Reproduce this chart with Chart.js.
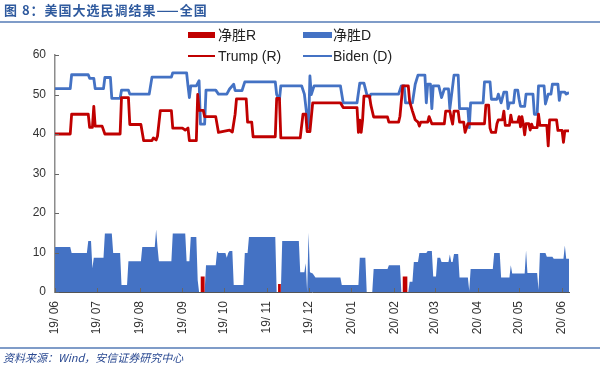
<!DOCTYPE html>
<html>
<head>
<meta charset="utf-8">
<script src="https://cdn.jsdelivr.net/npm/chart.js@4.4.0/dist/chart.umd.min.js"></script>
<style>
body { margin: 0; background: #fff; }
#wrap { position: relative; width: 600px; height: 365px; overflow: hidden; font-family: "Liberation Sans", Arial, sans-serif; }
#c { position: absolute; left: 0; top: 0; }
.title { position: absolute; left: 4px; top: 1px; font: bold 13px "Noto Sans CJK SC", sans-serif; color: #2f5a9e; letter-spacing: 1px; line-height: 17px; white-space: nowrap; }
.rule { position: absolute; left: 0; width: 600px; height: 2px; background: #7f9cc8; }
.leg { position: absolute; font-size: 14px; line-height: 16px; color: #222; white-space: nowrap; font-family: "Liberation Sans", "Noto Sans CJK SC", sans-serif; }
.mk { position: absolute; }
.foot { position: absolute; left: 3px; top: 350px; font: italic 11px "Noto Sans CJK SC", sans-serif; color: #2b4a92; line-height: 14px; white-space: nowrap; }
</style>
</head>
<body>
<div id="wrap">
  <canvas id="c" width="600" height="365"></canvas>
  <div class="title">图 8：美国大选民调结果——全国</div>
  <div class="rule" style="top:21px"></div>

  <div class="mk" style="left:188px;top:32px;width:27px;height:6px;background:#c00000"></div>
  <div class="leg" style="left:218px;top:27px">净胜R</div>
  <div class="mk" style="left:188px;top:55px;width:27px;height:2px;background:#c00000"></div>
  <div class="leg" style="left:218px;top:48px">Trump (R)</div>
  <div class="mk" style="left:303px;top:32px;width:29px;height:6px;background:#4472c4"></div>
  <div class="leg" style="left:333px;top:27px">净胜D</div>
  <div class="mk" style="left:303px;top:55px;width:29px;height:2px;background:#4472c4"></div>
  <div class="leg" style="left:333px;top:48px">Biden (D)</div>

  <div class="rule" style="top:347px;height:1.5px"></div>
  <div class="foot">资料来源：Wind，安信证券研究中心</div>
</div>
<script>
// days counted from 2019-06-01
const monthDays = [0, 30, 61, 92, 122, 153, 183, 214, 245, 274, 305, 335, 366];
const monthLabels = ['19/ 06', '19/ 07', '19/ 08', '19/ 09', '19/ 10', '19/ 11', '19/ 12',
                     '20/ 01', '20/ 02', '20/ 03', '20/ 04', '20/ 05', '20/ 06'];
const yTicks = [0, 10, 20, 30, 40, 50, 60];

// [day, value]
const trumpPoll = [[0,40],[11,40],[12,45],[24,45],[25,41.7],[27,41.7],[28,47],[29,42],[34,42],[36,40],
  [47,40],[48,49.2],[53,49.2],[54,42.4],[62,42.4],[64,38.3],[70,38.3],[71,39],[73,38.5],[74,39.5],
  [76,45.9],[84,45.9],[85,41.5],[92,41.5],[94,41],[96,41.5],[97,38.3],[102,38.3],[103,50],[104,46],
  [107,46],[108,44.4],[116,44.4],[118,40.4],[126,41],[128,40.5],[130,45],[131,48.9],[138,48.9],[139,43],
  [142,43],[143,39.3],[159,39.3],[160,49],[162,49],[163,39],[177,39],[179,45],[181,45],[182,40.6],
  [184,40.6],[186,47.9],[206,47.9],[208,46.7],[218,46.7],[219,40.4],[220,43.5],[221,40.4],[222,43.5],[223,49.6],
  [227,49.6],[228,47.3],[230,44.3],[240,44.3],[241,43],[248,43],[249,44.5],[251,52.2],[255,52.2],[256,48.2],
  [258,45.8],[260,43.6],[262,43],[263,42],[264,43],[269,43],[270,44.4],[272,42.6],[281,42.6],[282,45.8],
  [285,45.8],[286,44],[287,42.5],[288,45.8],[291,45.8],[292,43],[295,43],[296,40.4],[298,42.6],[310,42.6],
  [311,47.3],[313,47.3],[314,41.5],[315,40.4],[318,40.4],[319,42.6],[320,43.6],[323,43.6],[324,45.8],[325,42.2],
  [328,42.2],[329,44.8],[330,43],[334,43],[335,44.4],[336,41.8],[337,44.4],[338,42.6],[339,39.8],[340,42.6],
  [342,42.6],[343,41],[344,42.5],[345,41.6],[348,41.6],[349,45],[350,42.2],[355,42.2],[356,37],[357,43.6],
  [362,43.6],[363,40.9],[366,40.9],[367,37.9],[368,40.8],[371,40.8]];

const bidenPoll = [[0,51.5],[11,51.5],[12,55],[24,55],[25,54.1],[28,54.1],[29,51.5],[35,51.5],[36,54.3],[40,54.3],
  [41,49],[47,49],[48,51.1],[53,51.1],[54,50.1],[68,50.1],[70,54.4],[84,54.4],[85,55.5],[95,55.5],
  [96,52.2],[97,49.2],[98,52.2],[102,52.2],[104,53.5],[105,42.5],[108,42.5],[109,51.1],[116,51.1],[118,50.1],
  [124,50.1],[126,51.4],[129,52.6],[130,51],[135,51],[137,53.2],[159,53.2],[160,50],[162,48.7],[163,52.2],
  [178,52.2],[180,50.1],[182,44],[183,41.6],[184,54.7],[185,50],[187,52.2],[206,52.2],[208,47.9],[218,47.9],
  [220,52.9],[223,52.9],[225,50.1],[227,49.2],[228,50.1],[248,50.1],[250,52.2],[252,52.2],[253,47.9],[258,47.9],
  [260,52.6],[262,54.9],[267,54.9],[268,47.9],[269,52.6],[271,52.6],[272,46.4],[273,52.2],[277,52.2],[279,49.2],
  [281,51.4],[284,51.4],[285,46.4],[288,54.9],[291,54.9],[292,46.4],[298,46.4],[299,41.6],[300,47.9],[309,47.9],
  [310,53.2],[314,53.2],[315,48.8],[319,48.8],[320,50.1],[322,47.9],[324,50.6],[326,50.6],[327,46.4],[328,47.9],
  [331,47.9],[332,51.1],[334,51.1],[335,48.8],[336,47],[339,47],[340,50.1],[345,50.1],[346,45],[348,45],
  [349,52.2],[353,52.2],[354,47.6],[356,50.1],[358,50.1],[359,52.6],[363,52.6],[364,48.5],[365,50.6],[368,50.6],
  [369,50.1],[371,50.5]];

const netD = [[0,11.4],[11,11.4],[12,9.9],[23,9.9],[24,12.9],[26,12.9],[27,6],[28,8.7],[35,8.7],[36,14.8],
  [41,14.8],[42,9.9],[47,9.9],[48,1.8],[52,1.8],[53,7.8],[62,7.8],[63,11.4],[72,11.4],[73,15.8],
  [74,11.4],[75,7.8],[84,7.8],[85,14.8],[94,14.8],[95,7.8],[97,7.8],[98,13.9],[102,13.9],[103,3],
  [104,0],[108,0],[109,6.8],[116,6.8],[117,10.4],[118,9.9],[123,9.9],[124,8.7],[125,9.9],[126,10.4],
  [128,10.4],[129,1.8],[136,1.8],[137,9.9],[139,9.9],[140,13.9],[159,13.9],[160,0],[163,0],[164,12.9],
  [176,12.9],[177,5],[180,5],[181,7.3],[182,0],[183,15],[184,5],[186,4.7],[188,3.7],[206,3.7],
  [207,1.8],[219,1.8],[220,8.7],[224,8.7],[225,0],[229,0],[230,5.8],[240,5.8],[241,6.8],[249,6.8],
  [250,0],[255,0],[256,2.6],[258,2.6],[259,7.6],[262,7.6],[263,9.9],[268,9.9],[269,10.4],[272,10.4],
  [273,3.9],[275,3.9],[276,8.7],[278,8.7],[279,7.6],[284,7.6],[285,9.5],[286,7.6],[287,7.6],[288,9.6],
  [291,9.6],[292,3.7],[298,3.7],[299,0.3],[300,5.8],[316,5.8],[317,9.9],[321,9.9],[322,3.7],[328,3.7],
  [329,6.8],[330,4.7],[339,4.7],[340,10.5],[341,4.8],[348,4.8],[349,0.5],[350,9.9],[354,9.9],[355,8.9],
  [359,8.9],[360,8.4],[367,8.4],[368,11.8],[369,8.4],[371,8.4]];

const netR = [[105,0],[105,3.9],[108,3.9],[108,0],[161,0],[161,2],[163,2],[163,0],
  [251,0],[251,3.9],[254.5,3.9],[254.5,0]];

const toXY = arr => arr.map(([x, y]) => ({x: x, y: y}));

const innerTicks = {
    id: 'innerTicks',
    afterDraw(chart) {
        const ctx = chart.ctx;
        const x = chart.scales.x, y = chart.scales.y, a = chart.chartArea;
        ctx.save();
        ctx.strokeStyle = '#666';
        ctx.lineWidth = 1;
        ctx.beginPath();
        yTicks.forEach(v => {
            const py = Math.round(y.getPixelForValue(v)) + 0.5;
            ctx.moveTo(a.left, py); ctx.lineTo(a.left + 4, py);
        });
        monthDays.forEach(d => {
            const px = Math.round(x.getPixelForValue(d)) + 0.5;
            ctx.moveTo(px, a.bottom); ctx.lineTo(px, a.bottom - 4);
        });
        ctx.stroke();
        ctx.restore();
    }
};

new Chart(document.getElementById('c').getContext('2d'), {
    type: 'line',
    data: {
        datasets: [
            {label: 'Trump (R)', data: toXY(trumpPoll), borderColor: '#c00000', borderWidth: 2.8,
             pointRadius: 0, tension: 0, fill: false, order: 0, borderJoinStyle: 'round'},
            {label: 'Biden (D)', data: toXY(bidenPoll), borderColor: '#4472c4', borderWidth: 2.8,
             pointRadius: 0, tension: 0, fill: false, order: 1, borderJoinStyle: 'round'},
            {label: '净胜R', data: toXY(netR), borderWidth: 0, borderColor: 'rgba(0,0,0,0)',
             backgroundColor: '#c00000', pointRadius: 0, tension: 0, fill: 'origin', order: 2},
            {label: '净胜D', data: toXY(netD), borderWidth: 0, borderColor: 'rgba(0,0,0,0)',
             backgroundColor: '#4472c4', pointRadius: 0, tension: 0, fill: 'origin', order: 3}
        ]
    },
    options: {
        responsive: false,
        animation: false,
        devicePixelRatio: 1,
        layout: {padding: {top: 55, right: 31, left: 0, bottom: 0}},
        plugins: {legend: {display: false}, tooltip: {enabled: false}},
        scales: {
            x: {
                type: 'linear', min: 0, max: 371,
                grid: {display: false, drawTicks: false},
                border: {display: true, color: '#555', width: 1},
                afterBuildTicks: s => { s.ticks = monthDays.map(v => ({value: v})); },
                afterFit: s => { s.height = 73; },
                ticks: {
                    autoSkip: false, maxRotation: 90, minRotation: 90, padding: 9,
                    color: '#333', font: {family: 'Liberation Sans', size: 12},
                    callback: v => monthLabels[monthDays.indexOf(v)]
                }
            },
            y: {
                min: 0, max: 60,
                grid: {display: false, drawTicks: false},
                border: {display: true, color: '#8c8c8c', width: 1.5},
                afterBuildTicks: s => { s.ticks = yTicks.map(v => ({value: v})); },
                afterFit: s => { s.width = 55; },
                ticks: {padding: 9, color: '#333', font: {family: 'Liberation Sans', size: 12}}
            }
        }
    },
    plugins: [innerTicks]
});
</script>
</body>
</html>
